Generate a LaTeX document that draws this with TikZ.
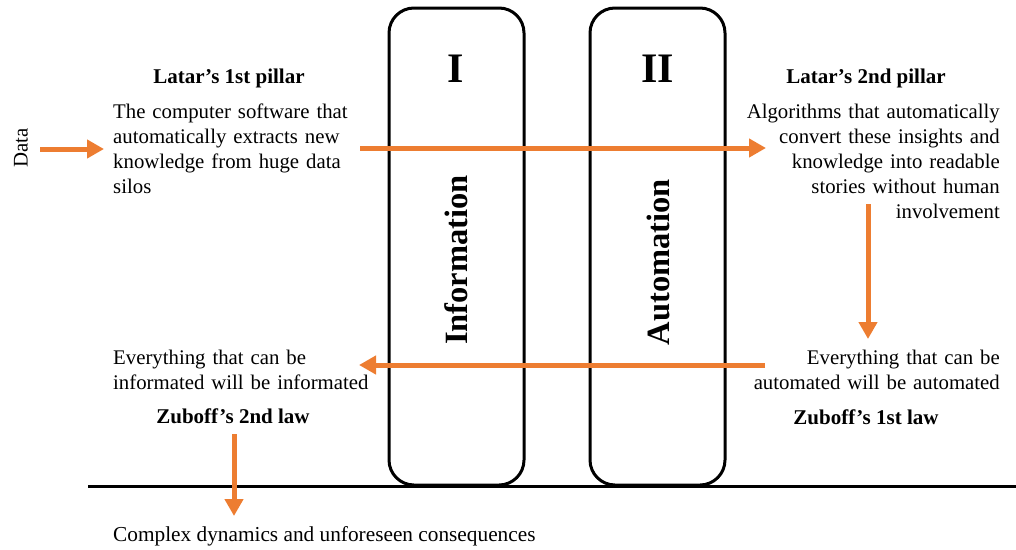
\documentclass[tikz,border=0pt]{standalone}
\usepackage{fontspec}
\setmainfont{Liberation Serif}
\usetikzlibrary{arrows.meta}
\definecolor{arrorange}{HTML}{ED7D31}
\begin{document}
\begin{tikzpicture}[x=1pt,y=-1pt,
  pillarbox/.style={draw, line width=3pt, rounded corners=25pt, minimum width=135pt, minimum height=477pt, inner sep=0pt},
  body/.style={font=\fontsize{20.8}{25}\selectfont, inner sep=0pt},
  head/.style={font=\bfseries\fontsize{21}{25}\selectfont, inner sep=0pt},
  numeral/.style={font=\bfseries\fontsize{42}{42}\selectfont, inner sep=0pt, anchor=base},
  pillarname/.style={font=\bfseries\fontsize{32.5}{33}\selectfont, inner sep=0pt, rotate=90},
  flow/.style={draw=arrorange, line width=5pt, -{Triangle[length=17pt,width=18pt]}},
  ground/.style={draw, line width=3pt}]
\useasboundingbox (0,0) rectangle (1016,549);

% pillars
\node[pillarbox] (boxI) at (456.5,246.5) {};
\node[pillarbox] (boxII) at (657.5,246.5) {};
\node[numeral] (numI) at (455.5,82) {I};
\node[numeral] (numII) at (657.5,82) {II};
\node[pillarname] (inf) at (456.5,260) {Information};
\node[pillarname] (aut) at (658.5,262) {Automation};

% ground line
\coordinate (gl) at (88,486);
\coordinate (gr) at (1016,486);
\draw[ground] (gl) -- (gr);

% texts
\node[body, rotate=90] (data) at (21,148) {Data};
\node[head, anchor=base] (p1) at (229,83) {Latar's 1st pillar};
\node[body, anchor=base west, text width=260pt, align=left] (t1) at (113,118)
  {The computer software that\\ automatically extracts new\\ knowledge from huge data\\ silos};
\node[head, anchor=base] (p2) at (866,83) {Latar's 2nd pillar};
\node[body, anchor=base east, text width=280pt, align=right] (t2) at (1000,118)
  {Algorithms that automatically\\ convert these insights and\\ knowledge into readable\\ stories without human\\ involvement};
\node[body, anchor=base east, text width=280pt, align=right] (t3) at (1000,364)
  {Everything that can be\\ automated will be automated};
\node[head, anchor=base] (z1) at (866,424) {Zuboff's 1st law};
\node[body, anchor=base west, text width=280pt, align=left] (t4) at (113,364)
  {Everything that can be\\ informated will be informated};
\node[head, anchor=base] (z2) at (233,423) {Zuboff's 2nd law};
\node[body, font=\fontsize{21.3}{25}\selectfont, anchor=base west] (t5) at (113,541) {Complex dynamics and unforeseen consequences};

% arrows
\coordinate (d0) at (40,149);
\coordinate (d1) at (104,149);
\draw[flow] (d0) -- (d1);
\coordinate (a0) at (360,148);
\coordinate (a1) at (766,148);
\draw[flow] (a0) -- (a1);
\coordinate (b0) at (868,204);
\coordinate (b1) at (868,339);
\draw[flow] (b0) -- (b1);
\coordinate (c0) at (765,365);
\coordinate (c1) at (359,365);
\draw[flow] (c0) -- (c1);
\coordinate (e0) at (234,434);
\coordinate (e1) at (234,516);
\draw[flow] (e0) -- (e1);
\end{tikzpicture}
\end{document}
